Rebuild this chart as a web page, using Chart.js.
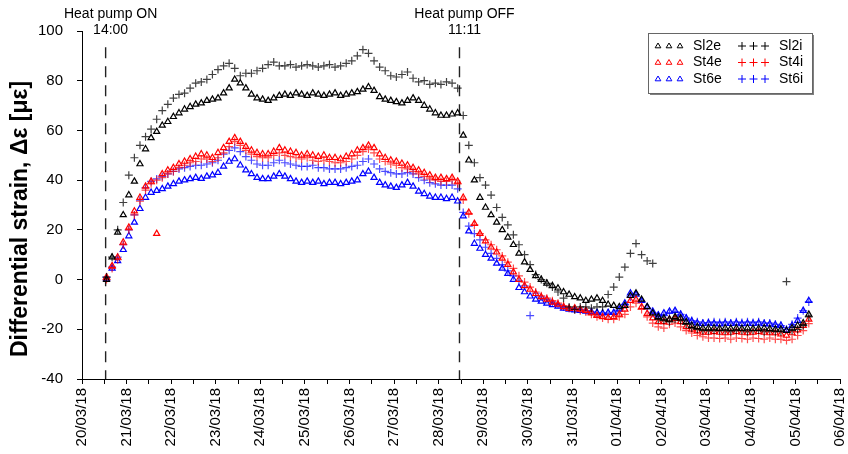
<!DOCTYPE html>
<html>
<head>
<meta charset="utf-8">
<script src="https://cdn.jsdelivr.net/npm/chart.js@4.4.0/dist/chart.umd.min.js"></script>
<style>
  html, body { margin: 0; padding: 0; background: #fff; }
  #wrap { position: relative; width: 848px; height: 454px; }
</style>
</head>
<body>
<div id="wrap"><canvas id="strainChart"></canvas></div>
<script>
// day 0 = 20/03/18 00:00, one reading every 3 h from the start of heating
const startDay = 0.55
const stepDays = 0.125

const dateLabels = ['20/03/18', '21/03/18', '22/03/18', '23/03/18', '24/03/18', '25/03/18',
  '26/03/18', '27/03/18', '28/03/18', '29/03/18', '30/03/18', '31/03/18', '01/04/18',
  '02/04/18', '03/04/18', '04/04/18', '05/04/18', '06/04/18']

const seriesNames = ['Sl2e', 'Sl2i', 'St4e', 'St4i', 'St6e', 'St6i']

// heat pump events (days)
const heatOnDay = 0.53
const heatOffDay = 8.466
const eventLabels = [['Heat pump ON', '14:00'], ['Heat pump OFF', '11:11']]

const sl2e = [
  0, 9, 19, 26, 34, 39.5, 46.5, 52.5, 57, 59.5,
  62, 63.5, 65.5, 67, 68.5, 69.5, 70.5, 71, 72, 72.5,
  73, 75, 77, 80.5, 79, 77, 74.5, 73, 72.5, 72,
  73, 74, 74.5, 74, 75, 74.5, 74, 75, 74.5, 74,
  74.5, 75, 74, 74.5, 75, 75.5, 76.5, 77.5, 76, 73.5,
  72.5, 72, 71.5, 71, 72, 73, 72, 70, 68.5, 67,
  66, 66, 66.5, 67, 58, 48, 40, 33, 29, 26,
  23, 20, 17, 14, 10.5, 7, 4, 1.5, 0, -1.5,
  -2.5, -3.5, -5, -6, -7, -7.5, -8.5, -8, -7.5, -8.5,
  -10, -10.5, -11, -10.5, -6.5, -5.5, -8, -11, -13.5, -15,
  -15.5, -16, -15, -15.5, -17, -18.5, -19, -19.5, -19.5, -19.5,
  -19.7, -19.5, -19.7, -19.5, -19.7, -19.5, -19.7, -19.7, -19.5, -19.8,
  -20, -20, -20.5, -19.5, -18.5, -17.5, -14
]

const sl2i = [
  1, 9, 20, 31, 42, 49, 54, 57.5, 60.5, 64.5,
  68, 70.5, 73, 74.5, 75, 77, 79, 79.5, 80.5, 82.5,
  84.5, 86, 87, 85, 82, 83, 83, 84, 85, 86.5,
  87.5, 86, 86, 86.5, 85.5, 86, 86.5, 86, 85.5, 86,
  86.5, 85.5, 86, 87, 88, 90, 92.5, 91, 88, 85.5,
  84, 82, 81.5, 82.5, 83.5, 81, 79.5, 80, 78.5, 79,
  78.5, 79.5, 79, 77, 66, 54, 47, 41, 38, 34,
  29, 25, 22, 18, 14, 10, 6, 2, 0, -1.5,
  -3, -5, -7.5, -11, -12, -11, -11, -11.5, -11, -11,
  -6, -3, 1, 5, 10.5, 14.5, 10, 7.5, 6.5, -16,
  -16.5, -17, -16, -16.5, -18, -19.5, -20, -20.5, -20.5, -20.5,
  -20.5, -20.5, -21, -20.5, -20.5, -21, -20.5, -20.5, -21, -20.5,
  -21, -21, -0.8, -20.5, -20, -18.5, -15
]

const st4e = [
  1, 5.5, 9, 15, 21, 27.5, 33, 37.5, 39.5, 18.5,
  42.5, 44, 45, 46.5, 47.5, 48.5, 49.5, 50.5, 50, 49,
  51, 53, 55.5, 57, 55.5, 53.5, 52, 51, 50.5, 50.5,
  51.5, 53, 52, 51.5, 51, 50, 50.5, 50, 49.5, 50,
  49, 49, 48.5, 49.5, 50.5, 52, 53, 54, 53, 50.5,
  49, 48, 47.5, 46.7, 46, 45, 44, 43, 42, 41,
  41, 40.5, 41, 39.5, 33, 27, 22.5, 18.5, 15.5, 13,
  11, 8.5, 6, 3, 0, -2.5, -4, -5.7, -7, -8,
  -9.2, -10, -11, -11.7, -11.5, -12, -12.5, -13.5, -14.5, -15,
  -15.3, -15, -14, -12, -8.5, -8, -11, -13.7, -15.5, -17,
  -17, -16, -15.7, -17, -19, -20, -20.7, -21.3, -21.3, -21,
  -21.3, -21.5, -21.3, -21, -21.3, -21.5, -21.3, -21, -21.3, -21.5,
  -21.5, -22, -22.5, -21.5, -20.3, -18.5, -16
]

const st4i = [
  0, 4.5, 8, 14, 20, 26, 31.5, 36, 38.5, 40,
  41, 42.5, 43.5, 45, 46, 47, 47.5, 48.5, 48.5, 47.5,
  49, 51, 53.5, 55.5, 54, 52, 50.5, 49.5, 49, 49,
  50, 51, 50, 49.5, 49, 48.5, 49, 48, 47.5, 48,
  47.5, 47, 47, 47.5, 48.5, 50, 51.5, 52.5, 51, 48.5,
  47.5, 46.5, 46, 45, 44.5, 43.5, 42.5, 41.5, 40.5, 40,
  39.5, 39.5, 40, 38.5, 32, 26.5, 22, 18.5, 16, 14,
  12, 9.5, 7, 4.5, 1.5, -1, -3, -5, -6.5, -7.5,
  -8.5, -9.5, -10.5, -11.5, -12, -12.5, -13, -14, -15, -15.5,
  -16, -16, -15, -14, -11, -9.5, -12, -15, -17.5, -19,
  -19.5, -18, -17.5, -19, -20.5, -21.5, -22.5, -23, -23.5, -23.5,
  -23.7, -23.5, -24, -23.5, -23.7, -24, -23.5, -23.7, -24, -23.5,
  -24, -24, -24.5, -24, -22.5, -20.5, -17.7
]

const st6e = [
  0.5, 4.5, 7.5, 12, 17.5, 23, 28.5, 33, 35, 35.8,
  36.5, 37.5, 38.5, 39.5, 40, 40.5, 41, 40.6, 41.5, 42,
  43, 45.5, 47.5, 48.5, 46, 44, 42.5, 41, 40.5, 40.5,
  41.5, 42.5, 41.5, 40.5, 39.5, 39, 39.5, 39, 39.5, 38.5,
  39, 39, 38.5, 39, 39.5, 40, 42.5, 43.5, 41, 39,
  38, 37.5, 37, 38, 39, 37.5, 35.5, 34.5, 33.5, 33,
  33, 32.5, 33, 31.5, 25.5, 19.5, 14.5, 12.5, 10, 8.5,
  6.5, 4.5, 2.4, 0, -3.3, -5, -6.7, -8, -8.8, -9.6,
  -10.2, -10.8, -11.6, -12, -12.3, -12.5, -12.8, -13, -13.3, -13.5,
  -13.3, -13.3, -12, -9.5, -5.5, -6, -8.5, -11, -12.8, -14.3,
  -13.5, -12.8, -12.5, -14, -15.5, -16.7, -17.5, -17.7, -17.5, -17.7,
  -17.9, -17.6, -17.7, -17.5, -17.8, -17.6, -17.7, -17.5, -17.8, -17.9,
  -18.2, -18.5, -20.3, -18.5, -16.5, -12.5, -8.5
]

const st6i = [
  1, 5, 9, 14, 20, 26, 32, 37, 39.5, 40.5,
  41.5, 42.5, 43.5, 44.5, 45, 45.5, 46, 46, 46.5, 47,
  48, 50.5, 52, 53, 51.5, 49.5, 48, 46.5, 46, 46,
  47, 48, 47, 46.5, 46, 45.5, 45.5, 46, 45, 45,
  44.5, 44.5, 44.5, 45, 45.5, 46, 47.5, 48.5, 46.5, 44.5,
  43.5, 43, 42.5, 42.5, 43, 42.5, 41, 40, 39, 38.5,
  38, 38, 38, 36.5, 27, 21.5, 18.5, 16, 13, 10.5,
  8.5, 6, 3.5, 1.5, -0.5, -2.5, -14.5, -5.5, -7, -8,
  -9, -10, -11, -11.5, -12, -12, -12.5, -13, -13.5, -13.5,
  -13.5, -13.5, -12.5, -10, -7, -6, -9, -11.5, -13.5, -14.5,
  -14.5, -13.5, -13, -14, -15.5, -16.5, -17, -17.5, -17.3, -17,
  -17.3, -17, -17.5, -17, -17.3, -17, -17.3, -17, -17.5, -17.5,
  -18, -18.5, -20, -18, -15.5, -12.5, -9
]

const fontFamily = '"Liberation Sans", Arial, sans-serif'

const toPoints = (values) => values.map((v, i) => ({ x: startDay + i * stepDays, y: v }))

const makeDataset = (label, values, color, style) => {
  const isTri = style === 'triangle'
  return {
    label: label,
    data: toPoints(values),
    showLine: false,
    pointStyle: style,
    pointRadius: isTri ? 3.5 : 4,
    pointBorderWidth: 1.2,
    pointBorderColor: color,
    pointBackgroundColor: 'rgba(0,0,0,0)',
  }
}

function drawTri(ctx, x, y, r) {
  ctx.beginPath()
  ctx.moveTo(x, y - r)
  ctx.lineTo(x + r * 0.95, y + r * 0.6)
  ctx.lineTo(x - r * 0.95, y + r * 0.6)
  ctx.closePath()
  ctx.stroke()
}

function drawCross(ctx, x, y, r) {
  ctx.beginPath()
  ctx.moveTo(x - r, y); ctx.lineTo(x + r, y)
  ctx.moveTo(x, y - r); ctx.lineTo(x, y + r)
  ctx.stroke()
}

const extrasPlugin = {
  id: 'extras',
  beforeDatasetsDraw(chart) {
    const { ctx, scales: { x, y } } = chart
    ctx.save()
    ctx.strokeStyle = '#222'
    ctx.lineWidth = 1.4
    ctx.setLineDash([11, 8])
    for (const d of [heatOnDay, heatOffDay]) {
      const px = x.getPixelForValue(d)
      ctx.beginPath()
      ctx.moveTo(px, y.getPixelForValue(93.5))
      ctx.lineTo(px, y.getPixelForValue(-40))
      ctx.stroke()
    }
    ctx.restore()
  },
  afterDraw(chart) {
    const { ctx, chartArea, scales: { x } } = chart
    ctx.save()
    ctx.fillStyle = '#000'
    ctx.font = '14px ' + fontFamily
    ctx.textAlign = 'center'
    ctx.textBaseline = 'middle'
    const days = [heatOnDay, heatOffDay]
    days.forEach((d, k) => {
      const px = x.getPixelForValue(d) + 5
      ctx.fillText(eventLabels[k][0], px, 14)
      ctx.fillText(eventLabels[k][1], px, 30)
    })

    // y axis title
    ctx.save()
    ctx.translate(21, 219)
    ctx.rotate(-Math.PI / 2)
    ctx.font = 'bold 23px ' + fontFamily
    ctx.fillText('Differential strain, Δε [με]', 0, 0)
    ctx.restore()

    // legend box
    const bx = chartArea.right - 192
    const by = chartArea.top + 2
    const bw = 164, bh = 60
    ctx.fillStyle = '#808080'
    ctx.fillRect(bx + 2, by + 2, bw, bh)
    ctx.fillStyle = '#fff'
    ctx.fillRect(bx, by, bw, bh)
    ctx.strokeStyle = '#666'
    ctx.lineWidth = 1
    ctx.strokeRect(bx + 0.5, by + 0.5, bw, bh)

    const colors = ['#000', '#ff0000', '#0000ff']
    ctx.font = '14px ' + fontFamily
    ctx.textAlign = 'left'
    for (let r = 0; r < 3; r++) {
      const ry = by + 13 + r * 16.5
      ctx.strokeStyle = colors[r]
      ctx.lineWidth = 1
      for (let k = 0; k < 3; k++) drawTri(ctx, bx + 10 + k * 11, ry, 3)
      for (let k = 0; k < 3; k++) drawCross(ctx, bx + 94 + k * 11.5, ry, 4)
      ctx.fillStyle = '#000'
      ctx.fillText(seriesNames[r * 2], bx + 45, ry)
      ctx.fillText(seriesNames[r * 2 + 1], bx + 131, ry)
    }
    ctx.restore()
  }
}

const ctx = document.getElementById('strainChart')
new Chart(ctx, {
  type: 'scatter',
  data: {
    datasets: [
      makeDataset('Sl2e', sl2e, '#000000', 'triangle'),
      makeDataset('Sl2i', sl2i, 'rgba(0,0,0,0.75)', 'cross'),
      makeDataset('St4e', st4e, '#ff0000', 'triangle'),
      makeDataset('St4i', st4i, 'rgba(255,0,0,0.7)', 'cross'),
      makeDataset('St6e', st6e, '#0000ff', 'triangle'),
      makeDataset('St6i', st6i, 'rgba(0,0,255,0.7)', 'cross'),
    ]
  },
  options: {
    responsive: true,
    maintainAspectRatio: false,
    animation: false,
    layout: { padding: { top: 31, right: 8, left: 0, bottom: 0 } },
    plugins: { legend: { display: false }, tooltip: { enabled: false } },
    scales: {
      x: {
        type: 'linear',
        min: 0,
        max: 17,
        afterFit: (s) => { s.height = 75; s.paddingLeft = 0; s.paddingRight = 0 },
        border: { display: true, color: '#000', width: 1 },
        grid: { drawOnChartArea: false, drawTicks: true, tickLength: 5, tickColor: '#000' },
        ticks: {
          stepSize: 0.5,
          autoSkip: false,
          maxRotation: 90,
          minRotation: 90,
          padding: 4,
          color: '#000',
          font: { family: fontFamily, size: 15 },
          callback: (v) => Number.isInteger(v) ? dateLabels[v] : ''
        }
      },
      y: {
        min: -40,
        max: 100,
        afterFit: (s) => { s.width = 82 },
        border: { display: true, color: '#000', width: 1 },
        grid: { drawOnChartArea: false, drawTicks: true, tickLength: 5, tickColor: '#000' },
        ticks: {
          stepSize: 20,
          padding: 14,
          color: '#000',
          font: { family: fontFamily, size: 15 }
        }
      }
    }
  },
  plugins: [extrasPlugin]
})
</script>
</body>
</html>
